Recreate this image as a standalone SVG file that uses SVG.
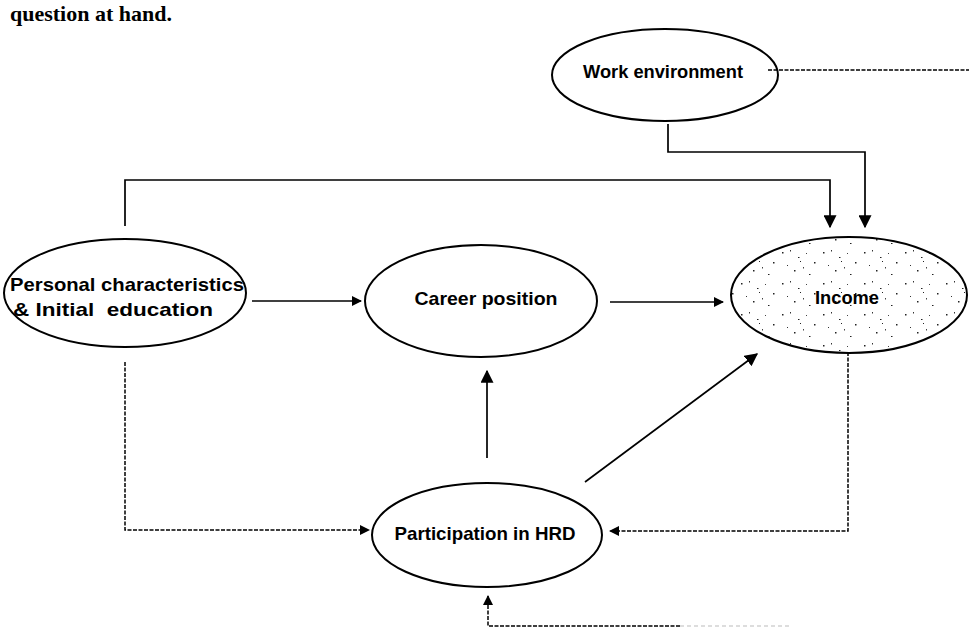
<svg xmlns="http://www.w3.org/2000/svg" width="969" height="628" viewBox="0 0 969 628">
<style>
.n{fill:none;stroke:#000;stroke-width:2}
.t{font-family:"Liberation Sans",Arial,sans-serif;font-weight:bold;font-size:18.5px;fill:#000;text-anchor:middle}
.c{fill:none;stroke:#000;stroke-width:1.7}
.d{fill:none;stroke:#000;stroke-width:1.5;stroke-dasharray:4 1.5}
</style>
<defs>
<marker id="a" viewBox="0 0 10 10" refX="9" refY="5" markerWidth="10" markerHeight="10" markerUnits="userSpaceOnUse" orient="auto"><path d="M0,0 L10,5 L0,10 z" fill="#000"/></marker>
<marker id="b" viewBox="0 0 10 10" refX="9" refY="5" markerWidth="13" markerHeight="13" markerUnits="userSpaceOnUse" orient="auto"><path d="M0,0 L10,5 L0,10 z" fill="#000"/></marker>
<pattern id="st" width="41" height="31" patternUnits="userSpaceOnUse">
<rect x="3" y="4" width="1.5" height="1.5" fill="#222"/><rect x="11" y="2" width="1" height="1.5" fill="#333"/><rect x="19" y="9" width="1.5" height="1" fill="#222"/><rect x="27" y="5" width="1" height="1" fill="#444"/><rect x="35" y="14" width="1.5" height="1.5" fill="#222"/><rect x="8" y="17" width="1" height="1" fill="#333"/><rect x="15" y="22" width="1.5" height="1.5" fill="#222"/><rect x="24" y="19" width="1" height="1.5" fill="#444"/><rect x="30" y="26" width="1.5" height="1" fill="#222"/><rect x="21" y="13" width="1" height="1" fill="#222"/>
</pattern>
</defs>
<text x="10" y="21" font-family="Liberation Serif,serif" font-size="22" font-weight="bold" fill="#000">question at hand.</text>
<g id="connectors">
<path class="d" d="M768,70 H969"/>
<path class="c" d="M668,124 V152 H865 V227" marker-end="url(#b)"/>
<path class="c" d="M125,226 V180 H830 V227" marker-end="url(#b)"/>
<path class="c" d="M252,301 H361" marker-end="url(#a)"/>
<path class="c" d="M610,302 H723" marker-end="url(#a)"/>
<path class="c" d="M487,458 V371" marker-end="url(#b)"/>
<path class="c" d="M585,482 L757,354" marker-end="url(#b)"/>
<path class="d" d="M125,362 V530 H369" marker-end="url(#a)"/>
<path class="d" d="M848,352 V531 H610" marker-end="url(#a)"/>
<path class="d" d="M680,626 H488 V596" marker-end="url(#a)"/>
<path d="M680,626 H790" fill="none" stroke="#bbb" stroke-width="1" stroke-dasharray="4 3"/>
</g>
<g id="work-environment">
<ellipse class="n" cx="665" cy="75" rx="113" ry="46"/>
<text class="t" x="663" y="78" textLength="160" lengthAdjust="spacingAndGlyphs">Work environment</text>
</g>
<g id="personal-characteristics">
<ellipse class="n" cx="125" cy="293" rx="121" ry="54"/>
<text class="t" x="127" y="291" textLength="234" lengthAdjust="spacingAndGlyphs">Personal characteristics</text>
<text class="t" x="113" y="316" xml:space="preserve" textLength="200" lengthAdjust="spacingAndGlyphs">&amp; Initial  education</text>
</g>
<g id="career-position">
<ellipse class="n" cx="481" cy="301" rx="116" ry="56"/>
<text class="t" x="486" y="305" textLength="143" lengthAdjust="spacingAndGlyphs">Career position</text>
</g>
<g id="income">
<ellipse cx="849" cy="295" rx="118" ry="58" fill="url(#st)"/>
<ellipse class="n" cx="849" cy="295" rx="118" ry="58"/>
<text class="t" x="847" y="304" textLength="64" lengthAdjust="spacingAndGlyphs">Income</text>
</g>
<g id="participation-in-hrd">
<ellipse class="n" cx="487" cy="535" rx="115" ry="52"/>
<text class="t" x="485" y="540" textLength="181" lengthAdjust="spacingAndGlyphs">Participation in HRD</text>
</g>
</svg>
